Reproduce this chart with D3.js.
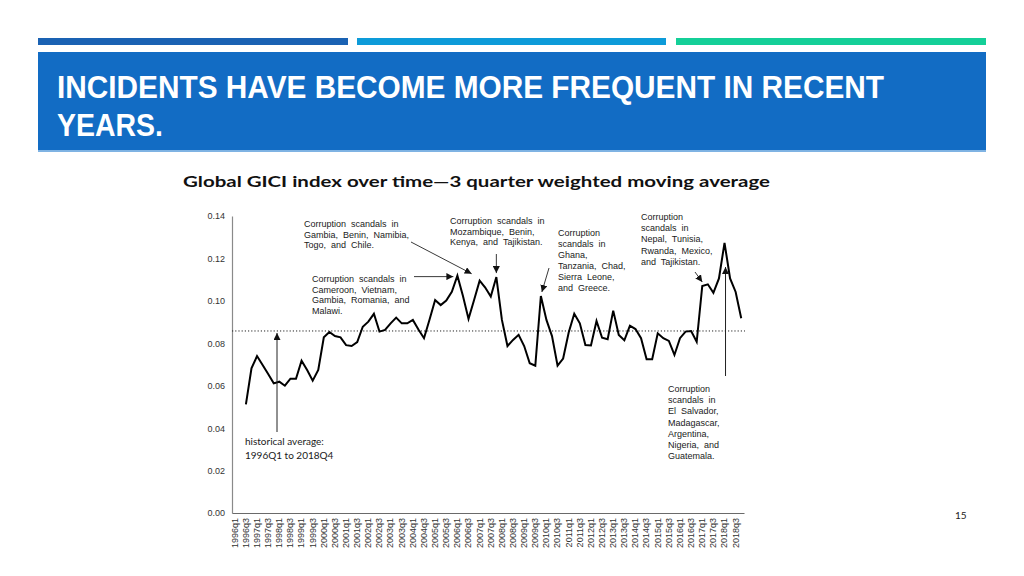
<!DOCTYPE html>
<html>
<head>
<meta charset="utf-8">
<script src="https://cdn.jsdelivr.net/npm/d3@7"></script>
<style>
  html, body { margin: 0; padding: 0; background: #fff; }
  svg { display: block; }
  .note { white-space: pre; }
</style>
</head>
<body>
<svg id="chart" width="1024" height="576"></svg>
<script>
// ---------- DATA ----------
const years = d3.range(1996, 2019);
const quarterNames = ["q1", "q2", "q3", "q4"];
const quarters = years.flatMap(y => quarterNames.map(q => y + q));

// GICI index (3-quarter weighted moving average); first two quarters undefined
const gici = [
  null, null, 0.0512, 0.0682, 0.0740, 0.0698, 0.0655, 0.0611,
  0.0619, 0.0600, 0.0633, 0.0633, 0.0718, 0.0674, 0.0624, 0.0674,
  0.0828, 0.0853, 0.0834, 0.0828, 0.0791, 0.0787, 0.0806, 0.0878,
  0.0902, 0.0939, 0.0855, 0.0863, 0.0894, 0.0921, 0.0894, 0.0894,
  0.0910, 0.0865, 0.0824, 0.0912, 0.1004, 0.0980, 0.1001, 0.1043,
  0.1119, 0.1023, 0.0915, 0.1004, 0.1095, 0.1063, 0.1020, 0.1112,
  0.0910, 0.0787, 0.0816, 0.0840, 0.0787, 0.0706, 0.0694, 0.1023,
  0.0910, 0.0834, 0.0695, 0.0728, 0.0851, 0.0939, 0.0894, 0.0792,
  0.0790, 0.0905, 0.0826, 0.0819, 0.0954, 0.0839, 0.0814, 0.0883,
  0.0867, 0.0824, 0.0725, 0.0725, 0.0847, 0.0824, 0.0811, 0.0745,
  0.0824, 0.0855, 0.0858, 0.0807, 0.1070, 0.1078, 0.1038, 0.1106,
  0.1273, 0.1106, 0.1042, 0.0918
];
const historicalAverage = 0.0858;
const yTicks = [0, 0.02, 0.04, 0.06, 0.08, 0.10, 0.12, 0.14];
const xTickLabels = quarters.filter((q, i) => i % 2 === 0);

const titleLines = ["INCIDENTS HAVE BECOME MORE FREQUENT IN RECENT", "YEARS."];
const subtitle = "Global GICI index over time\u20143 quarter weighted moving average";

const noteGambia = ["Corruption  scandals  in", "Gambia,  Benin,  Namibia,", "Togo,  and  Chile."];
const noteCameroon = ["Corruption  scandals  in", "Cameroon,  Vietnam,", "Gambia,  Romania,  and", "Malawi."];
const noteMozambique = ["Corruption  scandals  in", "Mozambique,  Benin,", "Kenya,  and  Tajikistan."];
const noteGhana = ["Corruption", "scandals  in", "Ghana,", "Tanzania,  Chad,", "Sierra  Leone,", "and  Greece."];
const noteNepal = ["Corruption", "scandals  in", "Nepal,  Tunisia,", "Rwanda,  Mexico,", "and  Tajikistan."];
const noteSalvador = ["Corruption", "scandals  in", "El  Salvador,", "Madagascar,", "Argentina,", "Nigeria,  and", "Guatemala."];
const noteAverage = ["historical average:", "1996Q1 to 2018Q4"];

// ---------- DRAW ----------
const svg = d3.select("#chart");

// header stripes
const stripes = [
  { x: 38, w: 310, c: "#1a62b3" },
  { x: 357, w: 309, c: "#0d9bd9" },
  { x: 676, w: 310, c: "#14cf98" }
];
svg.selectAll("rect.stripe").data(stripes).join("rect")
  .attr("class", "stripe")
  .attr("x", d => d.x).attr("y", 38).attr("width", d => d.w).attr("height", 7)
  .attr("fill", d => d.c);

svg.append("rect").attr("x", 38).attr("y", 52).attr("width", 948).attr("height", 99)
  .attr("fill", "#126cc4");
svg.append("rect").attr("x", 38).attr("y", 150).attr("width", 948).attr("height", 2)
  .attr("fill", "#7fb3e3");

const titleWidths = [827, 106];
svg.selectAll("text.title").data(titleLines).join("text")
  .attr("class", "title")
  .attr("x", 57).attr("y", (d, i) => 98 + i * 38)
  .attr("textLength", (d, i) => titleWidths[i])
  .attr("lengthAdjust", "spacingAndGlyphs")
  .attr("fill", "#fff")
  .style("font-family", "'Liberation Sans Narrow', 'Liberation Sans', Arial, sans-serif")
  .style("font-weight", "bold")
  .style("font-size", "31px")
  .text(d => d);

svg.append("text")
  .attr("x", 183).attr("y", 187)
  .attr("textLength", 587).attr("lengthAdjust", "spacingAndGlyphs")
  .attr("fill", "#111")
  .style("font-family", "Lato, 'Open Sans', sans-serif")
  .style("font-weight", "bold")
  .style("font-size", "16px")
  .text(subtitle);

// scales
const x = d3.scaleBand().domain(quarters).range([232, 744]).padding(0);
const y = d3.scaleLinear().domain([0, 0.14]).range([513, 216]);
const cx = q => x(q) + x.bandwidth() / 2;

// axes
const yAxis = svg.append("g").attr("transform", "translate(232,0)")
  .call(d3.axisLeft(y).tickValues(yTicks).tickFormat(d3.format(".2f")).tickSize(0).tickPadding(7));
yAxis.select(".domain").attr("stroke", "#8a8a8a").attr("stroke-width", 1.2);
yAxis.selectAll("text").style("font-family", "'Liberation Sans', Arial, sans-serif")
  .style("font-size", "9px").attr("fill", "#333");

const xAxis = svg.append("g").attr("transform", "translate(0,513)")
  .call(d3.axisBottom(x).tickValues(xTickLabels).tickSize(0).tickPadding(4));
xAxis.select(".domain").attr("stroke", "#6a6a6a").attr("stroke-width", 1.2);
xAxis.selectAll("text")
  .style("font-family", "'Liberation Sans', Arial, sans-serif")
  .style("font-size", "9px").attr("fill", "#333")
  .attr("transform", "rotate(-90)")
  .attr("text-anchor", "end")
  .attr("y", 0).attr("x", -5)
  .attr("dy", "0.32em");

// historical average dotted line
svg.append("line")
  .attr("x1", 232).attr("x2", 745)
  .attr("y1", y(historicalAverage)).attr("y2", y(historicalAverage))
  .attr("stroke", "#222").attr("stroke-width", 1).attr("stroke-dasharray", "1.2,2");

// series line
const points = quarters.map((q, i) => ({ q, v: gici[i] })).filter(d => d.v !== null);
svg.append("path").datum(points)
  .attr("fill", "none").attr("stroke", "#000").attr("stroke-width", 2)
  .attr("stroke-linejoin", "miter")
  .attr("d", d3.line().x(d => cx(d.q)).y(d => y(d.v)));

// arrow marker
const defs = svg.append("defs");
defs.append("marker").attr("id", "arr")
  .attr("viewBox", "0 0 10 10").attr("refX", 10).attr("refY", 5)
  .attr("markerWidth", 7).attr("markerHeight", 7).attr("markerUnits", "userSpaceOnUse")
  .attr("orient", "auto")
  .append("path").attr("d", "M0,0 L10,5 L0,10 z").attr("fill", "#111");

function arrow(x1, y1, x2, y2, w) {
  svg.append("line").attr("x1", x1).attr("y1", y1).attr("x2", x2).attr("y2", y2)
    .attr("stroke", "#222").attr("stroke-width", w || 0.9).attr("marker-end", "url(#arr)");
}
function note(lines, x0, y0, lh, opts) {
  opts = opts || {};
  const t = svg.append("text").attr("class", "note")
    .style("font-family", opts.font || "'Liberation Sans', Arial, sans-serif")
    .style("font-size", (opts.size || 9) + "px")
    .attr("fill", "#1a1a1a");
  lines.forEach((l, i) => t.append("tspan").attr("x", x0).attr("y", y0 + i * lh).text(l));
}

const qi = q => quarters.indexOf(q);
const vy = q => y(gici[qi(q)]);

// annotations
note(noteGambia, 304, 227, 10.6);
arrow(411, 242, cx("2007q1") - 8, vy("2007q1") - 7);

note(noteCameroon, 312, 282, 10.6);
arrow(414, vy("2006q1") + 1, cx("2006q1") - 4, vy("2006q1") + 1);

note(noteMozambique, 450, 224, 10.6);
arrow(cx("2007q4"), 254, cx("2007q4"), vy("2007q4") - 4);

note(noteGhana, 558, 236, 10.9);
arrow(549, 268, cx("2009q4") + 1, vy("2009q4") - 4);

note(noteNepal, 641, 220, 11.2);
arrow(695, 272, cx("2017q1"), vy("2017q1") - 4);

note(noteSalvador, 668, 392, 11.2);
arrow(cx("2018q1") + 1, 376, cx("2018q1") + 1, 267, 1);

arrow(277, 432, 277, y(historicalAverage) + 2, 1);
note(noteAverage, 245, 445, 14, { font: "Lato, 'Open Sans', sans-serif", size: 10 });

// page number
svg.append("text").attr("x", 955).attr("y", 519)
  .style("font-family", "Lato, sans-serif").style("font-size", "10px").attr("fill", "#222")
  .text("15");
</script>
</body>
</html>
